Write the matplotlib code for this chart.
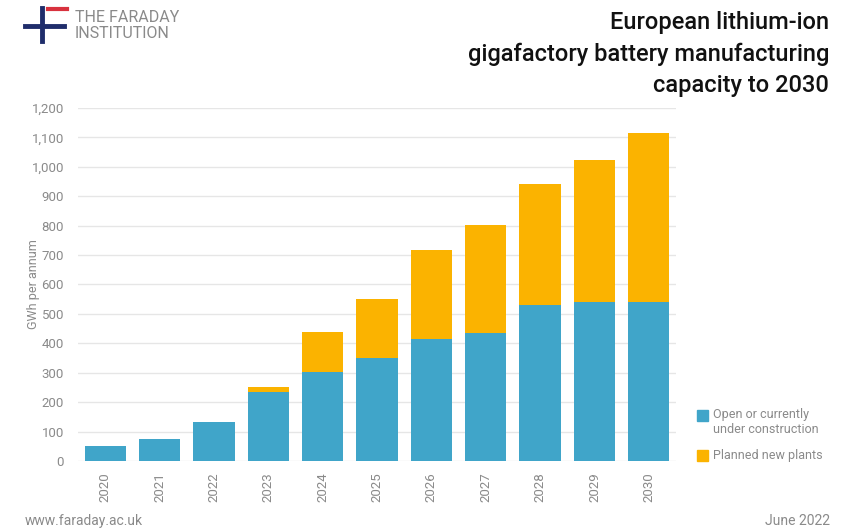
import matplotlib
matplotlib.use("Agg")
import matplotlib.pyplot as plt
from matplotlib.lines import Line2D
from matplotlib.patches import Rectangle

years = ["2020", "2021", "2022", "2023", "2024", "2025", "2026", "2027", "2028", "2029", "2030"]
open_capacity = [50, 75, 133, 233, 303, 351, 415, 434, 530, 539, 539]
planned = [0, 0, 0, 17, 135, 200, 303, 368, 410, 483, 576]
yticks = list(range(0, 1201, 100))
title_lines = ["European lithium-ion", "gigafactory battery manufacturing", "capacity to 2030"]

BLUE = "#40a5c9"
YELLOW = "#fbb300"
GREY = "#8a8a8a"

plt.rcParams['font.family'] = ['Roboto', 'DejaVu Sans']

fig = plt.figure(figsize=(8.56, 5.32), dpi=100)
ax = fig.add_axes([78/856, 1-461/532, (676-78)/856, (461-108)/532])

x = list(range(len(years)))
ax.bar(x, open_capacity, width=0.76, color=BLUE, zorder=3)
ax.bar(x, planned, width=0.76, bottom=open_capacity, color=YELLOW, zorder=3)

ax.set_xlim(-0.5, len(years) - 0.5)
ax.set_ylim(0, 1200)
ax.set_yticks(yticks)
ax.set_yticklabels([f"{v:,}" for v in yticks])
ax.set_xticks(x)
ax.set_xticklabels(years, rotation=90)
ax.tick_params(axis='y', length=0, pad=10, labelsize=9.5, labelcolor=GREY)
ax.tick_params(axis='x', length=0, pad=8, labelsize=9.5, labelcolor=GREY)
ax.grid(axis='y', color="#e6e6e6", linewidth=1, zorder=0)
for s in ax.spines.values():
    s.set_visible(False)
ax.set_ylabel("GWh per annum", color=GREY, fontsize=9)
ax.yaxis.set_label_coords(-0.063, 0.5)

# Title (one text per line, right aligned)
for i, line in enumerate(title_lines):
    fig.text(829/856, 1-(29 + 31.5*i)/532, line, ha='right', va='baseline',
             fontsize=17, fontweight='medium', color='#111111')

# Logo
fig.add_artist(Line2D([25/856, 64/856], [1-26/532, 1-26/532], color="#1f2d6b", lw=3.5))
fig.add_artist(Line2D([42/856, 42/856], [1-8/532, 1-41/532], color="#1f2d6b", lw=3.5))
fig.add_artist(Line2D([48/856, 67/856], [1-9/532, 1-9/532], color="#d8323e", lw=3))
fig.text(75/856, 1-25.5/532, "THE FARADAY\nINSTITUTION", ha='left', va='center', fontsize=11.5,
         color=GREY, linespacing=1.15)

# Legend
fig.add_artist(Rectangle((697/856, 1-421/532), 11/856, 11/532, color=BLUE, transform=fig.transFigure))
fig.text(713/856, 1-408/532, "Open or currently\nunder construction", ha='left', va='top',
         fontsize=9, color=GREY, linespacing=1.2)
fig.add_artist(Rectangle((697/856, 1-461/532), 11/856, 11/532, color=YELLOW, transform=fig.transFigure))
fig.text(713/856, 1-455/532, "Planned new plants", ha='left', va='center', fontsize=9, color=GREY)

# Footer
fig.text(25/856, 1-521/532, "www.faraday.ac.uk", ha='left', va='center', fontsize=10, color=GREY)
fig.text(830/856, 1-521/532, "June 2022", ha='right', va='center', fontsize=10, color=GREY)

fig.savefig("out.png", dpi=100, facecolor='white')
